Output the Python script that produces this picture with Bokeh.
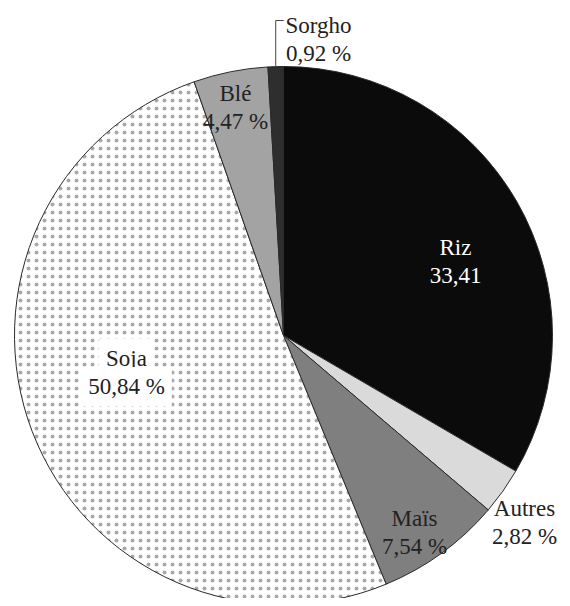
import math
from bokeh.plotting import figure
from bokeh.models import Range1d, ColumnDataSource, Label
from bokeh.embed import file_html
from bokeh.resources import INLINE

# ---- data ----
categories = ["Riz", "Autres", "Maïs", "Soja", "Blé", "Sorgho"]
shares = [33.41, 2.82, 7.54, 50.84, 4.47, 0.92]
suffixes = ["", " %", " %", " %", " %", " %"]

# ---- styles ----
colors = ["#0b0b0b", "#dadada", "#7f7f7f", "#ffffff", "#a3a3a3", "#2e2e2e"]
hatches = ["", "", "", "dot", "", ""]
name_colors = ["white", "#222222", "#222222", "#222222", "#222222", "#222222"]

# layout (screen pixel coordinates; y measured from top of window)
CX, CY, R = 283, 335, 269
label_pos = [(455, 247), (524, 508), (414, 518), (126, 358), (235, 93), (318, 25)]
line_gap = 28
FONT = "Liberation Serif"
FS = "23px"

W, H = 562, 598
p = figure(width=W, height=H, output_backend="svg", toolbar_location=None,
           x_range=Range1d(0, W), y_range=Range1d(606 - H, 606),
           min_border=0)
p.axis.visible = False
p.grid.visible = False
p.outline_line_color = None
p.background_fill_color = "white"
p.border_fill_color = "white"

def sy(y):
    return 606 - y

total = sum(shares)
starts, ends = [], []
acc = 0.0
for s in shares:
    starts.append(math.pi / 2 - 2 * math.pi * acc / total)
    acc += s
    ends.append(math.pi / 2 - 2 * math.pi * acc / total)

src = ColumnDataSource(dict(x=[CX] * len(shares), y=[sy(CY)] * len(shares),
                            start=starts, end=ends, color=colors, hatch=hatches))
p.wedge(x="x", y="y", radius=R, radius_units="screen", start_angle="start",
        end_angle="end", direction="clock", fill_color="color",
        line_color="#2a2a2a", line_width=1, hatch_pattern="hatch",
        hatch_color="#a8a8a8", hatch_scale=8, hatch_weight=0.5, source=src)

# labels
for i, (name, v, suf) in enumerate(zip(categories, shares, suffixes)):
    lx, ly = label_pos[i]
    vtxt = f"{v:.2f}".replace(".", ",") + suf
    for j, t in enumerate([name, vtxt]):
        kw = {}
        if hatches[i]:
            kw = dict(background_fill_color="white", padding=7)
        p.add_layout(Label(x=lx, y=sy(ly + j * line_gap), text=t,
                           text_font=FONT, text_font_size=FS,
                           text_align="center", text_baseline="alphabetic",
                           text_color=name_colors[i], **kw))

# leader line for Sorgho
mid = (starts[-1] + ends[-1]) / 2
px = CX + R * math.cos(mid)
py = CY - R * math.sin(mid)
p.line(x=[px, px, px + 8], y=[sy(py), sy(20), sy(20)], line_color="#444444",
       line_width=1)

open("out.html", "w").write(file_html(p, INLINE))
